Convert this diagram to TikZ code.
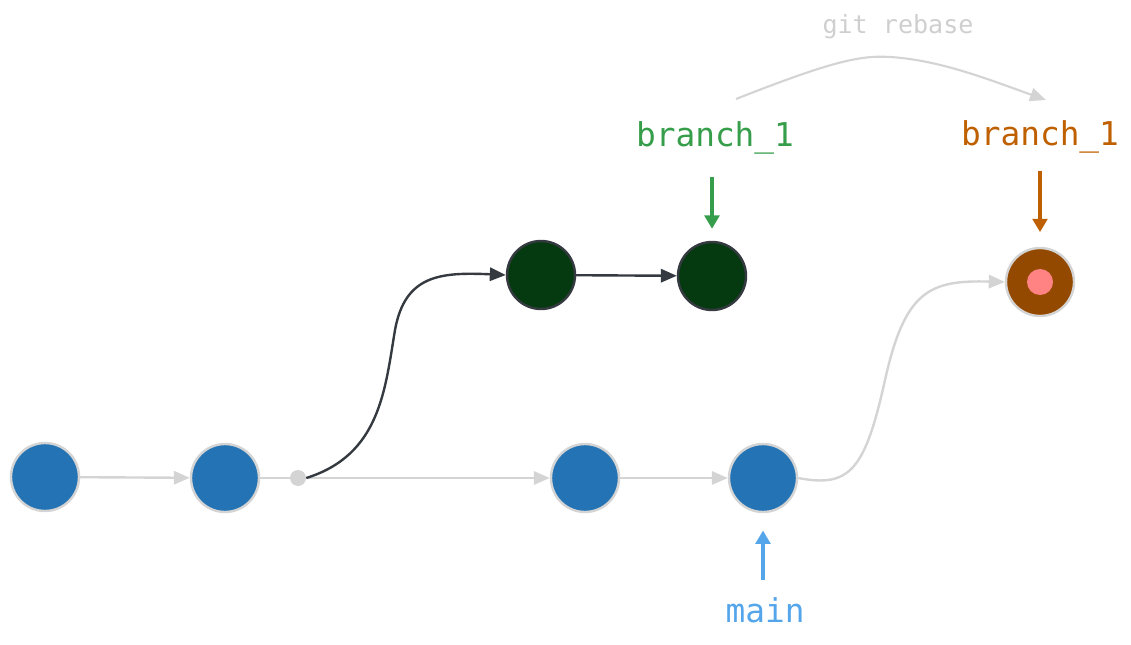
\documentclass[tikz,border=0pt]{standalone}
\usepackage{fontspec}
\setmonofont{DejaVu Sans Mono}
\usetikzlibrary{arrows.meta}
\definecolor{cblue}{HTML}{2474B5}
\definecolor{cgreen}{HTML}{053A10}
\definecolor{cdark}{HTML}{343A40}
\definecolor{cbrown}{HTML}{934900}
\definecolor{cpink}{HTML}{FF8383}
\definecolor{cgrey}{HTML}{D4D4D4}
\definecolor{tgreen}{HTML}{369E4B}
\definecolor{torange}{HTML}{BF6000}
\definecolor{tblue}{HTML}{55A5EA}
\definecolor{tgrey}{HTML}{CFCFCF}
\tikzset{
  commit/.style={circle,minimum size=51pt,inner sep=0pt,line width=1.8pt},
  bluecommit/.style={commit,fill=cblue,draw=cgrey},
  greencommit/.style={commit,fill=cgreen,draw=cdark},
  tip/.style={-{Triangle[length=12pt,width=10pt]}},
  greyarrow/.style={tip,draw=cgrey,line width=1.8pt},
  darkarrow/.style={tip,draw=cdark,line width=1.8pt},
  label/.style={font=\ttfamily\fontsize{24.6pt}{28pt}\selectfont,inner sep=0pt},
  ptr/.style={-{Triangle[length=10pt,width=11pt]},line width=3.2pt},
}
\begin{document}
\begin{tikzpicture}[x=0.75pt,y=-0.75pt]
\useasboundingbox (0,0) rectangle (1131,645);
% commits
\node[bluecommit] (b1) at (45,477) {};
\node[bluecommit] (b2) at (225,478) {};
\node[circle,fill=cgrey,minimum size=12pt,inner sep=0pt] (fork) at (298,478) {};
\node[bluecommit] (b3) at (585,478) {};
\node[bluecommit] (b4) at (763,478) {};
\node[greencommit] (g1) at (541,275) {};
\node[greencommit] (g2) at (712,276) {};
\node[commit,fill=cbrown,draw=cgrey] (r1) at (1040,282) {};
\node[circle,fill=cpink,minimum size=19.5pt,inner sep=0pt] (r1c) at (r1) {};
% main line
\draw[greyarrow] (b1) -- (b2);
\draw[cgrey,line width=1.8pt] (b2) -- (fork);
\draw[greyarrow] (fork) -- (b3);
\draw[greyarrow] (b3) -- (b4);
% branch
\draw[darkarrow] (fork.east) .. controls (380,455) and (385,390) .. (395,330)
  .. controls (405,275) and (440,272) .. (g1.west);
\draw[darkarrow] (g1) -- (g2);
% rebased
\draw[greyarrow] (b4.east) .. controls (850,488) and (865,470) .. (885,380)
  .. controls (905,290) and (930,280) .. (r1.west);
% labels
\node[label,text=tgreen] (lg) at (715,138) {branch\_1};
\node[label,text=torange] (lo) at (1040,137) {branch\_1};
\node[label,text=tblue] (lm) at (765,610) {main};
\node[font=\ttfamily\fontsize{18.8pt}{22pt}\selectfont,text=tgrey,inner sep=0pt] (lr) at (898,27) {git rebase};
% pointers
\coordinate (pg) at (712,177);
\coordinate (po) at (1040,171);
\coordinate (pm) at (763,580);
\draw[ptr,tgreen,shorten >=9pt] (pg) -- (g2.north);
\draw[ptr,torange,shorten >=11pt] (po) -- (r1.north);
\draw[ptr,tblue,shorten >=13pt] (pm) -- (b4.south);
% rebase arc
\coordinate (ra) at (736,99);
\coordinate (rb) at (1046,100);
\draw[greyarrow,line width=1.6pt] (ra) .. controls (830,62) and (860,55) .. (890,57)
  .. controls (940,60) and (990,80) .. (rb);
\end{tikzpicture}
\end{document}
